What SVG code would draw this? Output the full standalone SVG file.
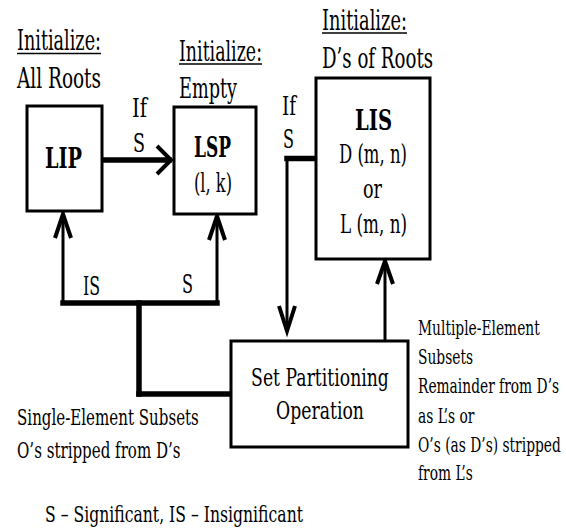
<svg xmlns="http://www.w3.org/2000/svg" width="566" height="529" viewBox="0 0 566 529">
<style>
text{font-family:"DejaVu Serif","Liberation Serif",serif;fill:#000}
.h{font-size:28px}
.b{font-size:28px;font-weight:bold}
.m{font-size:26px}
.p{font-size:25px}
.s{font-size:23px}
.r{font-size:20px}
.box{fill:#fff;stroke:#000;stroke-width:3}
.ln{fill:none;stroke:#000;stroke-width:3}
.thick{fill:none;stroke:#000;stroke-width:5.5;stroke-linecap:square}
.ah{fill:none;stroke:#000;stroke-width:4;stroke-linejoin:miter;stroke-linecap:butt}
.ul{stroke:#000;stroke-width:1.5}
</style>
<rect width="566" height="529" fill="#fff"/>

<g id="connectors">
  <line class="thick" x1="102" y1="160" x2="169" y2="160"/>
  <polyline class="ah" points="157,146 171,160 157,174"/>
  <line class="ln" x1="63" y1="303" x2="63" y2="214"/>
  <polyline class="ah" points="55,238 63,214 71,238"/>
  <line class="ln" x1="217" y1="303" x2="217" y2="217"/>
  <polyline class="ah" points="209,240 217,216 225,240"/>
  <line class="thick" x1="63" y1="303" x2="217" y2="303"/>
  <line class="thick" x1="139" y1="303" x2="139" y2="394"/>
  <line class="thick" x1="139" y1="394" x2="229" y2="394"/>
  <line class="thick" x1="287" y1="158.5" x2="314" y2="158.5"/>
  <line class="ln" x1="287" y1="157" x2="287" y2="330"/>
  <polyline class="ah" points="279,306 287,331 295,306"/>
  <line class="ln" x1="385" y1="341" x2="385" y2="262"/>
  <polyline class="ah" points="377,284 385,261 393,284"/>
</g>

<g id="node-lip">
  <rect class="box" x="27" y="106" width="75" height="105"/>
  <text class="b" x="45" y="168" textLength="37" lengthAdjust="spacingAndGlyphs">LIP</text>
</g>
<g id="node-lsp">
  <rect class="box" x="174" y="107" width="82" height="107"/>
  <text class="b" x="194" y="157" textLength="37" lengthAdjust="spacingAndGlyphs">LSP</text>
  <text class="m" x="194" y="192" textLength="38" lengthAdjust="spacingAndGlyphs">(l, k)</text>
</g>
<g id="node-lis">
  <rect class="box" x="316" y="78" width="114" height="181"/>
  <text class="b" x="355" y="130" textLength="37" lengthAdjust="spacingAndGlyphs">LIS</text>
  <text class="m" x="339" y="163" textLength="68" lengthAdjust="spacingAndGlyphs">D (m, n)</text>
  <text class="m" x="363" y="198" textLength="19" lengthAdjust="spacingAndGlyphs">or</text>
  <text class="m" x="340" y="233" textLength="67" lengthAdjust="spacingAndGlyphs">L (m, n)</text>
</g>
<g id="node-set">
  <rect class="box" x="231" y="341" width="177" height="106"/>
  <g transform="translate(320,0) scale(0.69,1)">
    <text class="p" x="0" y="386" text-anchor="middle">Set Partitioning</text>
    <text class="p" x="0" y="419" text-anchor="middle">Operation</text>
  </g>
</g>

<g id="labels">
  <text class="h" x="17" y="50" textLength="84" lengthAdjust="spacingAndGlyphs">Initialize:</text>
  <line class="ul" x1="17" y1="53.5" x2="101" y2="53.5"/>
  <text class="h" x="17" y="88" textLength="84" lengthAdjust="spacingAndGlyphs">All Roots</text>
  <text class="h" x="179" y="61" textLength="83" lengthAdjust="spacingAndGlyphs">Initialize:</text>
  <line class="ul" x1="179" y1="64" x2="262" y2="64"/>
  <text class="h" x="179" y="98" textLength="58" lengthAdjust="spacingAndGlyphs">Empty</text>
  <text class="h" x="322" y="30" textLength="85" lengthAdjust="spacingAndGlyphs">Initialize:</text>
  <line class="ul" x1="322" y1="33" x2="407" y2="33"/>
  <text class="h" x="322" y="68" textLength="111" lengthAdjust="spacingAndGlyphs">D’s of Roots</text>
  <text class="m" x="132" y="117" textLength="15" lengthAdjust="spacingAndGlyphs">If</text>
  <text class="m" x="133" y="152" textLength="12" lengthAdjust="spacingAndGlyphs">S</text>
  <text class="m" x="282" y="115" textLength="14" lengthAdjust="spacingAndGlyphs">If</text>
  <text class="m" x="283" y="148" textLength="11" lengthAdjust="spacingAndGlyphs">S</text>
  <text class="m" x="83" y="295" textLength="17" lengthAdjust="spacingAndGlyphs">IS</text>
  <text class="m" x="182" y="293" textLength="11" lengthAdjust="spacingAndGlyphs">S</text>
  <g transform="translate(17,0) scale(0.655,1)">
    <text class="s" x="0" y="425">Single-Element Subsets</text>
    <text class="s" x="0" y="458">O’s stripped from D’s</text>
  </g>
  <g transform="translate(418,0) scale(0.69,1)">
    <text class="r" x="0" y="335">Multiple-Element</text>
    <text class="r" x="0" y="364">Subsets</text>
    <text class="r" x="0" y="393">Remainder from D’s</text>
    <text class="r" x="0" y="423">as L’s or</text>
    <text class="r" x="0" y="452">O’s (as D’s) stripped</text>
    <text class="r" x="0" y="480">from L’s</text>
  </g>
  <text class="s" x="45" y="522" textLength="258" lengthAdjust="spacingAndGlyphs">S – Significant, IS – Insignificant</text>
</g>
</svg>
